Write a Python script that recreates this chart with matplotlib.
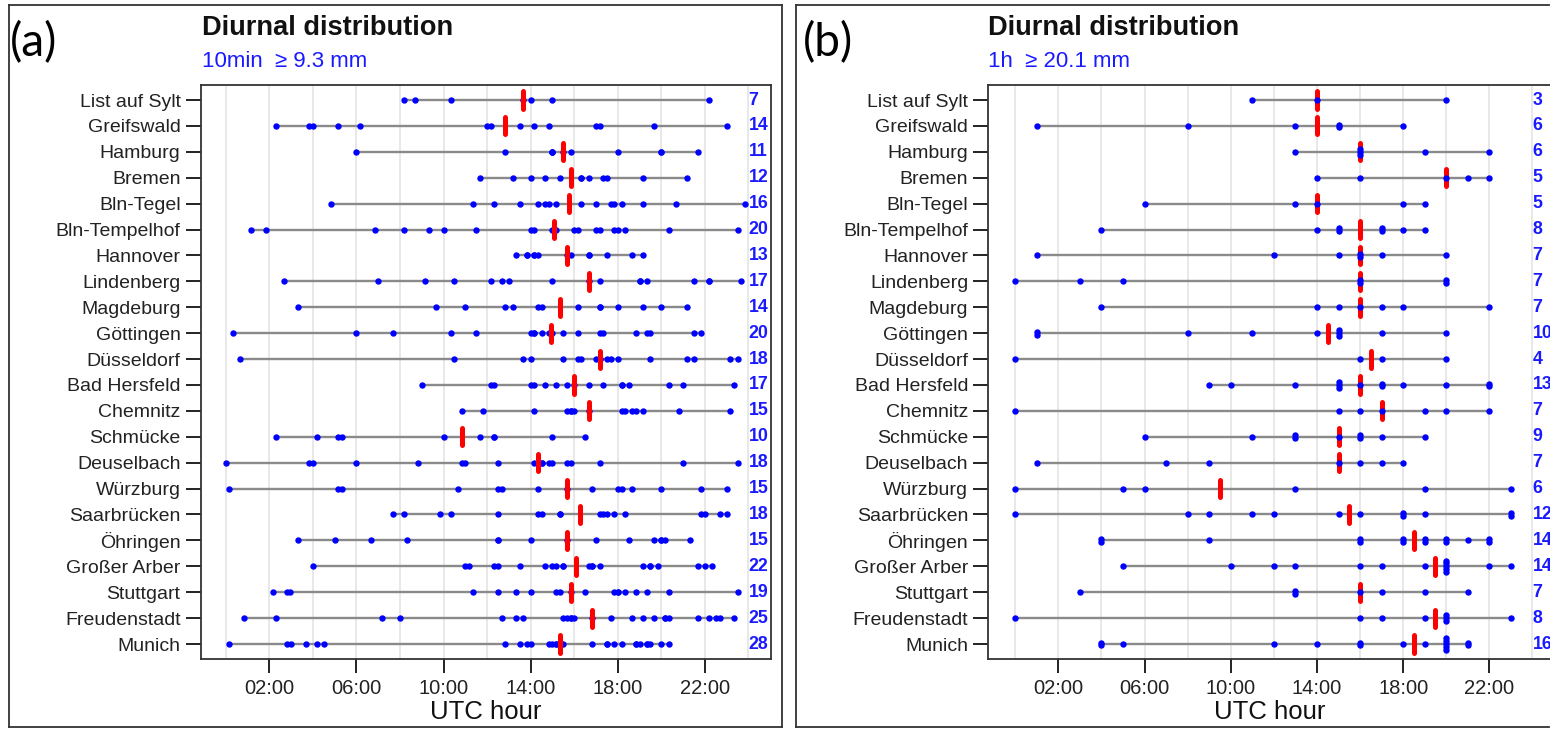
# ---------------------------------------------------------------------
# IMPORTED FUNCTIONS USED IN PROGRAM
# ---------------------------------------------------------------------

import numpy as np
import matplotlib
matplotlib.use("Agg")
import matplotlib.pyplot as plt
from matplotlib.lines import Line2D
from collections import Counter


# ---------------------------------------------------------------------
# Data (UTC hour of each event per station)
# ---------------------------------------------------------------------

stations = ["List auf Sylt", "Greifswald", "Hamburg", "Bremen", "Bln-Tegel",
            "Bln-Tempelhof", "Hannover", "Lindenberg", "Magdeburg", "Göttingen",
            "Düsseldorf", "Bad Hersfeld", "Chemnitz", "Schmücke", "Deuselbach",
            "Würzburg", "Saarbrücken", "Öhringen", "Großer Arber", "Stuttgart",
            "Freudenstadt", "Munich"]

# panel (a): 10min >= 9.3 mm
hours_a = [
    [8.17, 8.67, 10.33, 13.67, 14.0, 15.0, 22.17],
    [2.33, 3.83, 4.0, 5.17, 6.17, 12.0, 12.17, 13.5, 14.17, 14.83, 17.0, 17.17, 19.67, 23.0],
    [6.0, 12.83, 15.0, 15.0, 15.0, 15.5, 15.83, 18.0, 20.0, 20.0, 21.67],
    [11.67, 13.17, 14.0, 14.67, 15.33, 16.33, 16.33, 16.67, 17.33, 17.5, 19.17, 21.17],
    [4.83, 11.33, 12.33, 13.5, 14.33, 14.67, 14.83, 15.17, 16.33, 17.0, 17.67, 17.83,
     18.17, 19.17, 20.67, 23.83],
    [1.17, 1.83, 6.83, 8.17, 9.33, 10.0, 11.5, 14.0, 14.17, 15.0, 15.17, 16.0, 16.17,
     17.0, 17.17, 17.83, 18.0, 18.33, 20.33, 23.5],
    [13.33, 13.83, 13.83, 14.17, 14.17, 14.33, 15.67, 15.83, 16.67, 16.67, 17.5, 18.67, 19.17],
    [2.67, 7.0, 9.17, 10.5, 12.17, 12.67, 13.0, 15.0, 16.67, 17.17, 19.0, 19.0, 19.33,
     21.5, 22.17, 22.17, 23.67],
    [3.33, 9.67, 11.0, 12.83, 13.17, 14.33, 14.5, 16.17, 17.17, 17.17, 18.0, 19.17, 20.0, 21.17],
    [0.33, 6.0, 7.67, 10.33, 11.5, 14.0, 14.17, 14.17, 14.5, 14.83, 15.0, 15.5, 16.17,
     17.17, 17.33, 18.83, 19.33, 19.5, 21.5, 21.83],
    [0.67, 10.5, 13.67, 14.0, 15.5, 16.17, 16.33, 17.0, 17.17, 17.17, 17.5, 17.67, 18.0,
     19.5, 21.17, 21.5, 23.17, 23.5],
    [9.0, 12.17, 12.33, 14.0, 14.17, 14.67, 15.17, 15.67, 16.0, 16.67, 17.33, 18.17,
     18.17, 18.5, 20.33, 21.0, 23.33],
    [10.83, 11.83, 14.17, 15.67, 15.83, 15.83, 16.0, 16.67, 18.17, 18.33, 18.67, 18.83,
     19.17, 20.83, 23.17],
    [2.33, 4.17, 5.17, 5.33, 10.0, 11.67, 12.33, 12.33, 15.0, 16.5],
    [0.0, 3.83, 4.0, 6.0, 8.83, 10.83, 11.0, 12.5, 14.17, 14.5, 14.5, 14.83, 15.0, 15.67,
     15.83, 17.17, 21.0, 23.5],
    [0.17, 5.17, 5.33, 10.67, 12.5, 12.67, 14.33, 15.67, 16.83, 18.0, 18.17, 18.67, 20.0,
     21.83, 23.0],
    [7.67, 8.17, 9.83, 10.33, 12.5, 14.33, 14.5, 15.33, 15.33, 17.17, 17.33, 17.5, 17.83,
     18.33, 21.83, 22.0, 22.67, 23.0],
    [3.33, 5.0, 6.67, 8.33, 12.5, 12.5, 14.0, 15.67, 17.0, 18.5, 19.67, 20.0, 20.0, 20.17, 21.33],
    [4.0, 11.0, 11.17, 12.33, 12.5, 13.5, 14.67, 15.0, 15.17, 15.5, 15.5, 16.67, 16.83,
     16.83, 17.17, 19.17, 19.5, 19.5, 19.83, 21.67, 22.0, 22.33],
    [2.17, 2.83, 2.93, 11.33, 12.5, 13.33, 14.0, 15.17, 15.33, 15.83, 16.5, 17.83, 18.0,
     18.0, 18.33, 18.83, 19.33, 20.33, 23.5],
    [0.83, 2.33, 7.17, 8.0, 12.67, 13.33, 13.67, 15.5, 15.67, 15.83, 15.83, 16.0, 16.83,
     17.67, 18.67, 19.17, 19.67, 20.17, 20.17, 20.33, 21.67, 22.17, 22.5, 22.67, 23.33],
    [0.17, 2.83, 3.0, 3.67, 4.17, 4.5, 12.83, 13.5, 13.83, 14.0, 14.83, 15.0, 15.17,
     15.17, 15.5, 16.83, 17.5, 17.5, 17.83, 18.17, 18.83, 18.83, 19.0, 19.33, 19.33,
     19.5, 20.0, 20.33],
]
median_a = [13.67, 12.83, 15.5, 15.83, 15.75, 15.08, 15.67, 16.67, 15.33, 14.92, 17.17,
            16.0, 16.67, 10.83, 14.33, 15.67, 16.25, 15.67, 16.08, 15.83, 16.83, 15.33]
counts_a = [7, 14, 11, 12, 16, 20, 13, 17, 14, 20, 18, 17, 15, 10, 18, 15, 18, 15, 22, 19, 25, 28]

# panel (b): 1h >= 20.1 mm
hours_b = [
    [11, 14, 20],
    [1, 8, 13, 15, 15, 18],
    [13, 16, 16, 16, 19, 22],
    [14, 16, 20, 21, 22],
    [6, 13, 14, 18, 19],
    [4, 14, 15, 15, 17, 17, 18, 19],
    [1, 12, 15, 16, 16, 17, 20],
    [0, 3, 5, 16, 16, 20, 20],
    [4, 14, 15, 16, 17, 18, 22],
    [1, 1, 8, 11, 14, 15, 15, 15, 17, 20],
    [0, 16, 17, 20],
    [9, 10, 13, 15, 15, 15, 16, 17, 17, 18, 20, 22, 22],
    [0, 15, 16, 17, 19, 20, 22],
    [6, 11, 13, 13, 15, 16, 16, 17, 19],
    [1, 7, 9, 15, 16, 17, 18],
    [0, 5, 6, 13, 19, 23],
    [0, 8, 9, 11, 12, 15, 16, 18, 18, 19, 23, 23],
    [4, 4, 9, 16, 16, 18, 18, 19, 19, 20, 20, 21, 22, 22],
    [5, 10, 12, 13, 16, 17, 19, 20, 20, 20, 20, 20, 22, 23],
    [3, 13, 13, 16, 17, 19, 21],
    [0, 16, 17, 19, 20, 20, 20, 23],
    [4, 4, 5, 12, 14, 16, 16, 18, 19, 20, 20, 20, 20, 20, 21, 21],
]
median_b = [14, 14, 16, 20, 14, 16, 16, 16, 16, 14.5, 16.5, 16, 17, 15, 15, 9.5, 15.5,
            18.5, 19.5, 16, 19.5, 18.5]
counts_b = [3, 6, 6, 5, 5, 8, 7, 7, 7, 10, 4, 13, 7, 9, 7, 6, 12, 14, 14, 7, 8, 16]

tick_hours = [2, 6, 10, 14, 18, 22]
tick_labels = ["02:00", "06:00", "10:00", "14:00", "18:00", "22:00"]

# Colours used in program
colour_dot = "#0000ff"
colour_text = "#1a1aff"
colour_line = "#8a8a8a"
colour_median = "#ff0000"
colour_grid = "#e4e4e4"

plt.rcParams["font.family"] = ["Liberation Sans", "DejaVu Sans"]

W, H = 1550, 729


# ---------------------------------------------------------------------
# FUNCTION: draws one diurnal panel
# ---------------------------------------------------------------------

def plot_panel(ax, hours, medians, counts, xlim, stack, bar_on_top):
    """dots per station, range line, median bar and count on the right"""
    rows = np.arange(1, len(stations) + 1)

    for h in range(0, 25, 2):
        ax.axvline(h, color=colour_grid, lw=1.2, zorder=0)

    for row, vals, med, n in zip(rows, hours, medians, counts):
        ax.plot([min(vals), max(vals)], [row, row], color=colour_line, lw=1.7, zorder=1)

        xs, ys = [], []
        if stack:
            for v, k in Counter(vals).items():
                for i in range(k):
                    xs.append(v)
                    ys.append(row + (i - (k - 1) / 2) * 0.11)
        else:
            xs, ys = list(vals), [row] * len(vals)

        ax.plot([med, med], [row - 0.33, row + 0.33], color=colour_median, lw=3.6,
                solid_capstyle="round", zorder=4 if bar_on_top else 2)
        ax.plot(xs, ys, "o", color=colour_dot, ms=4.6, mec="none", zorder=3)
        ax.text(24.0, row, str(n), color=colour_text, fontsize=12.8, fontweight="bold",
                ha="left", va="center", clip_on=False)

    ax.set_xlim(*xlim)
    ax.set_ylim(22.59, 0.42)
    ax.set_xticks(tick_hours)
    ax.set_xticklabels(tick_labels)
    ax.set_yticks(rows)
    ax.set_yticklabels(stations)
    ax.tick_params(axis="x", length=10, width=1.4, labelsize=14.5, pad=4, colors="#222222")
    ax.tick_params(axis="y", length=10.5, width=1.4, labelsize=14, pad=4, colors="#222222")
    for sp in ax.spines.values():
        sp.set_linewidth(1.3)
        sp.set_color("#333333")


# ---------------------------------------------------------------------
# FUNCTION: texts and frame around a panel
# ---------------------------------------------------------------------

def decorate(fig, letter, subtitle, box, sides, left_px, letter_px, ax_centre_px):
    x0, y0, x1, y1 = box
    fx0, fx1 = x0 / W, x1 / W
    fy0, fy1 = 1 - y0 / H, 1 - y1 / H
    edges = {"top": ([fx0, fx1], [fy0, fy0]), "bottom": ([fx0, fx1], [fy1, fy1]),
             "left": ([fx0, fx0], [fy0, fy1]), "right": ([fx1, fx1], [fy0, fy1])}
    for side in sides:
        xs, ys = edges[side]
        fig.add_artist(Line2D(xs, ys, transform=fig.transFigure, lw=1.3, color="#333333"))

    fig.text(letter_px / W, 1 - 43 / H, letter, fontsize=33, family=["Lato", "DejaVu Sans"],
             ha="left", va="center")
    fig.text(left_px / W, 1 - 35 / H, "Diurnal distribution", fontsize=19.6,
             fontweight="bold", ha="left", va="baseline", color="#111111")
    fig.text(left_px / W, 1 - 67 / H, subtitle, fontsize=16, color=colour_text,
             ha="left", va="baseline")
    fig.text(ax_centre_px / W, 1 - 712 / H, "UTC hour", fontsize=18.5,
             ha="center", va="center", color="#111111")


if __name__ == "__main__":

    fig = plt.figure(figsize=(W / 100, H / 100), dpi=100)
    bottom = 1 - 659.3 / H
    height = (659.3 - 85) / H

    ax_a = fig.add_axes([200.7 / W, bottom, 570 / W, height])
    plot_panel(ax_a, hours_a, median_a, counts_a, (-1.15, 25.02), stack=False, bar_on_top=True)

    ax_b = fig.add_axes([988.3 / W, bottom, 564 / W, height])
    plot_panel(ax_b, hours_b, median_b, counts_b, (-1.25, 24.92), stack=True, bar_on_top=False)

    decorate(fig, "(a)", "10min  \u2265 9.3 mm", (9, 5, 782, 727),
             ["top", "bottom", "left", "right"], 202, 10, 485.7)
    decorate(fig, "(b)", "1h  \u2265 20.1 mm", (796, 5, 1549, 727),
             ["top", "bottom", "left"], 988, 803, 1270)

    fig.savefig("out.png", dpi=100)
